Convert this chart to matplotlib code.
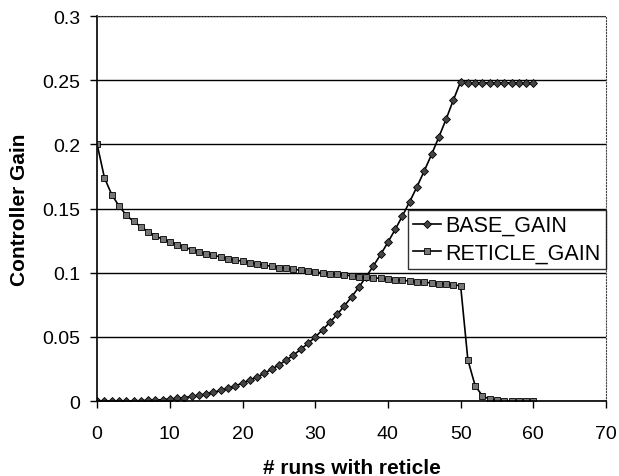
import matplotlib.pyplot as plt

plt.rcParams['font.family'] = ['Liberation Sans', 'DejaVu Sans']

# 数据
runs = list(range(0, 61))

base_gain = [0.0, 0.0, 0.0, 0.0, 0.0001, 0.0002, 0.0003, 0.0005, 0.0008, 0.0011,
             0.0016, 0.0021, 0.0028, 0.0036, 0.0045, 0.0056, 0.0069, 0.0083, 0.0100, 0.0119,
             0.0140, 0.0163, 0.0188, 0.0217, 0.0248, 0.0282, 0.0319, 0.0359, 0.0403, 0.0449,
             0.0500, 0.0555, 0.0613, 0.0675, 0.0742, 0.0812, 0.0888, 0.0969, 0.1054, 0.1143,
             0.1238, 0.1338, 0.1444, 0.1555, 0.1671, 0.1794, 0.1922, 0.2057, 0.2197, 0.2346,
             0.249, 0.248, 0.248, 0.248, 0.248, 0.248, 0.248, 0.248, 0.248, 0.248, 0.248]

reticle_gain = [0.200, 0.174, 0.161, 0.152, 0.145, 0.140, 0.136, 0.132, 0.129, 0.126,
                0.124, 0.122, 0.120, 0.118, 0.116, 0.115, 0.114, 0.112, 0.111, 0.110,
                0.109, 0.108, 0.107, 0.106, 0.105, 0.104, 0.1035, 0.1027, 0.1020, 0.1013,
                0.1006, 0.1000, 0.0994, 0.0988, 0.0982, 0.0977, 0.0971, 0.0966, 0.0961, 0.0956,
                0.0951, 0.0946, 0.0941, 0.0936, 0.0931, 0.0926, 0.0921, 0.0916, 0.0911, 0.0906,
                0.0900, 0.032, 0.012, 0.004, 0.0015, 0.0006, 0.0003, 0.0002, 0.0001, 0.0, 0.0]

fig = plt.figure(figsize=(6.19, 4.77), dpi=100)
ax = fig.add_axes([0.157, 0.157, 0.822, 0.807])

ax.plot(runs, base_gain, color='black', linewidth=1.2, marker='D', markersize=3.8,
        markerfacecolor='#444444', markeredgecolor='black', markeredgewidth=0.6,
        label='BASE_GAIN')
ax.plot(runs, reticle_gain, color='black', linewidth=1.2, marker='s', markersize=3.8,
        markerfacecolor='#777777', markeredgecolor='black', markeredgewidth=0.6,
        label='RETICLE_GAIN')

ax.set_xlim(0, 70)
ax.set_ylim(0, 0.3)
ax.set_xticks(range(0, 71, 10))
ax.set_yticks([0, 0.05, 0.1, 0.15, 0.2, 0.25, 0.3])
ax.set_yticklabels(['0', '0.05', '0.1', '0.15', '0.2', '0.25', '0.3'])
ax.yaxis.grid(True, color='black', linewidth=1.0)
ax.set_axisbelow(True)
ax.tick_params(axis='both', direction='out', length=5, width=1, labelsize=14)
ax.tick_params(axis='x', pad=12)
ax.tick_params(axis='y', pad=7)

for side in ['top', 'right']:
    ax.spines[side].set_linestyle(':')
    ax.spines[side].set_color('#444444')
for side in ['left', 'bottom']:
    ax.spines[side].set_linewidth(1.2)

ax.set_xlabel('# runs with reticle', fontsize=15, fontweight='bold', labelpad=12)
ax.set_ylabel('Controller Gain', fontsize=15, fontweight='bold', labelpad=10)

leg = ax.legend(loc='upper right', bbox_to_anchor=(1.0, 0.497), fontsize=15.5,
                frameon=True, fancybox=False, edgecolor='black', borderpad=0.25,
                handlelength=1.3, handletextpad=0.2, labelspacing=0.3, borderaxespad=0)
leg.get_frame().set_linewidth(1.0)

plt.savefig('out.png', dpi=100)
